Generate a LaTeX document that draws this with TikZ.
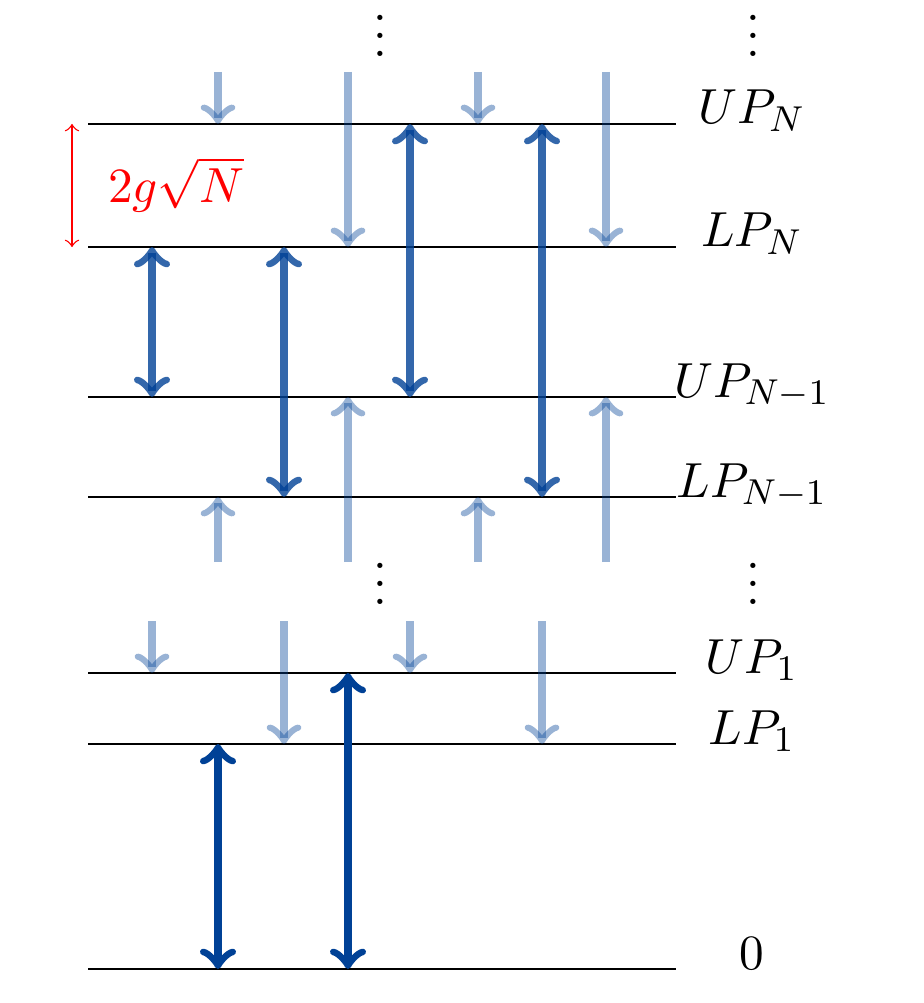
\documentclass[tikz,border=0pt,11pt]{standalone}
\usepackage{amsmath}
\usepackage{amssymb}
\usepackage{tikz}
\definecolor{levelblue}{RGB}{0,65,150}

\begin{document}
\begin{tikzpicture}[x=0.781cm, y=0.781cm,
    strong/.style={draw=levelblue, line width=1.8pt, <->},
    weak/.style={draw=levelblue, line width=1.7pt, opacity=0.4, ->}]
    \useasboundingbox (0,0) rectangle (9.24,-10.03);

    % Energy levels with labels
    \foreach \y/\name/\lab in {1.24/upN/{UP_N}, 2.47/lpN/{LP_N}, 3.97/upNm/{UP_{N-1}},
        4.97/lpNm/{LP_{N-1}}, 6.73/upone/{UP_1}, 7.44/lpone/{LP_1}, 9.69/ground/{0}}
    {
        \draw (0.88,-\y) -- (6.76,-\y);
        \node[anchor=base, inner sep=0pt] (\name) at (7.52,-\y) {$\lab$};
    }

    % Dots
    \node[anchor=base, inner sep=0pt] (dotstop) at (3.80,-0.57) {$\vdots$};
    \node[anchor=base, inner sep=0pt] (dotsmid) at (3.80,-6.04) {$\vdots$};
    \node[anchor=base, inner sep=0pt] (dotstopr) at (7.53,-0.57) {$\vdots$};
    \node[anchor=base, inner sep=0pt] (dotsmidr) at (7.53,-6.04) {$\vdots$};

    % Splitting
    \draw[red, <->, line width=0.3pt] (0.72,-1.24) -- (0.72,-2.47);
    \node[anchor=base, inner sep=0pt, red] (split) at (1.76,-2.03) {$2g\sqrt{N}$};

    % Incoming and outgoing transitions
    \foreach \x/\a/\b in {2.18/0.72/1.24, 3.48/0.72/2.47, 4.78/0.72/1.24, 6.06/0.72/2.47,
        2.18/5.62/4.97, 3.48/5.62/3.97, 4.78/5.62/4.97, 6.06/5.62/3.97,
        1.52/6.21/6.73, 2.84/6.21/7.44, 4.10/6.21/6.73, 5.42/6.21/7.44}
        \draw[weak] (\x,-\a) -- (\x,-\b);

    % Transitions between N and N-1
    \draw[strong, opacity=0.8] (1.52,-2.47) -- (1.52,-3.97);
    \draw[strong, opacity=0.8] (2.84,-2.47) -- (2.84,-4.97);
    \draw[strong, opacity=0.8] (4.10,-1.24) -- (4.10,-3.97);
    \draw[strong, opacity=0.8] (5.42,-1.24) -- (5.42,-4.97);

    % Transitions to the ground state
    \draw[strong] (2.18,-7.44) -- (2.18,-9.69);
    \draw[strong] (3.48,-6.73) -- (3.48,-9.69);
\end{tikzpicture}
\end{document}
